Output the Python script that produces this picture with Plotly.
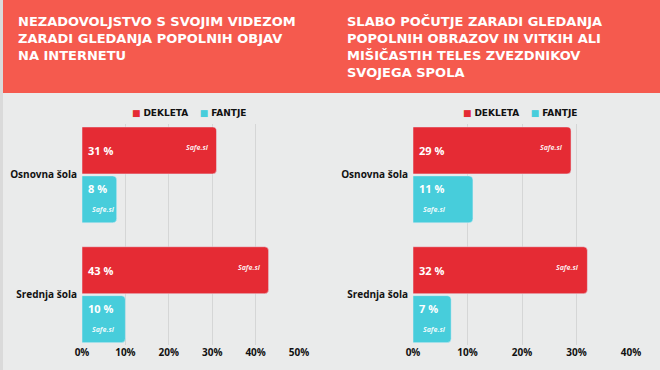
import plotly.graph_objects as go

# ---- data ----
categories = ["Osnovna šola", "Srednja šola"]
left_title = "NEZADOVOLJSTVO S SVOJIM VIDEZOM<br>ZARADI GLEDANJA POPOLNIH OBJAV<br>NA INTERNETU"
right_title = "SLABO POČUTJE ZARADI GLEDANJA<br>POPOLNIH OBRAZOV IN VITKIH ALI<br>MIŠIČASTIH TELES ZVEZDNIKOV<br>SVOJEGA SPOLA"
series_names = ["DEKLETA", "FANTJE"]
left_dekleta = [31, 43]
left_fantje = [8, 10]
right_dekleta = [29, 32]
right_fantje = [11, 7]
left_ticks = [0, 10, 20, 30, 40, 50]
right_ticks = [0, 10, 20, 30, 40]

RED = "#E52B34"
CYAN = "#47CDDB"
HEADER = "#F55A4E"
BG = "#EAEBEB"
W, H = 660, 370

fig = go.Figure()

panels = [
    dict(xa="x", ya="y", dek=left_dekleta, fan=left_fantje, ticks=left_ticks,
         dom=[82 / W, 299 / W], title=left_title, tx=16, legx=189),
    dict(xa="x2", ya="y2", dek=right_dekleta, fan=right_fantje, ticks=right_ticks,
         dom=[413 / W, 631 / W], title=right_title, tx=345, legx=520),
]

annotations = []
for i, p in enumerate(panels):
    fig.add_trace(go.Bar(y=categories, x=p["dek"], orientation="h", marker_color=RED,
                         name=series_names[0], showlegend=False,
                         xaxis=p["xa"], yaxis=p["ya"]))
    fig.add_trace(go.Bar(y=categories, x=p["fan"], orientation="h", marker_color=CYAN,
                         name=series_names[1], showlegend=False,
                         xaxis=p["xa"], yaxis=p["ya"]))
    for c, cat in enumerate(categories):
        d, f = p["dek"][c], p["fan"][c]
        annotations.append(dict(xref=p["xa"], yref=p["ya"], x=0, y=cat, xanchor="left",
                                xshift=4, yshift=24, text=f"<b>{d} %</b>", showarrow=False,
                                font=dict(color="white", size=11, family="Open Sans")))
        annotations.append(dict(xref=p["xa"], yref=p["ya"], x=0, y=cat, xanchor="left",
                                xshift=4, yshift=-14, text=f"<b>{f} %</b>", showarrow=False,
                                font=dict(color="white", size=11, family="Open Sans")))
        annotations.append(dict(xref=p["xa"], yref=p["ya"], x=d, y=cat, xanchor="right",
                                xshift=-6, yshift=27, text="<i><b>Safe.si</b></i>", showarrow=False,
                                font=dict(color="rgba(255,255,255,0.9)", size=7, family="Open Sans")))
        annotations.append(dict(xref=p["xa"], yref=p["ya"], x=0, y=cat, xanchor="left",
                                xshift=8, yshift=-35, text="<i><b>Safe.si</b></i>", showarrow=False,
                                font=dict(color="rgba(255,255,255,0.9)", size=7, family="Open Sans")))
    annotations.append(dict(xref="paper", yref="paper", x=p["tx"] / W, y=1 - 12 / H,
                            xanchor="left", yanchor="top", align="left", showarrow=False,
                            text=f"<b>{p['title']}</b>",
                            font=dict(color="white", size=13, family="DejaVu Sans")))
    annotations.append(dict(xref="paper", yref="paper", x=p["legx"] / W, y=1 - 113 / H,
                            xanchor="center", yanchor="middle", showarrow=False,
                            text=(f"<span style='color:{RED}'>■</span> <b>{series_names[0]}</b>"
                                  f"    <span style='color:{CYAN}'>■</span> <b>{series_names[1]}</b>"),
                            font=dict(color="#111", size=9, family="DejaVu Sans")))

axis_common = dict(showgrid=True, gridcolor="#D5D6D6", gridwidth=1, zeroline=False,
                   showline=False, automargin=False,
                   tickfont=dict(size=10, color="#111", family="Open Sans", weight="bold"))
ydom = [1 - 345 / H, 1 - 124 / H]
yaxis_common = dict(showgrid=False, zeroline=False, showline=False, automargin=False,
                    range=[1.42, -0.425], ticks="", ticklabelstandoff=4,
                    tickfont=dict(size=10, color="#111", family="Open Sans", weight="bold"))

fig.update_layout(
    width=W, height=H, margin=dict(l=0, r=0, t=0, b=0, autoexpand=False),
    paper_bgcolor=BG, plot_bgcolor="rgba(0,0,0,0)",
    barmode="group", bargap=0.183, bargroupgap=0.04, barcornerradius=4,
    xaxis=dict(domain=panels[0]["dom"], range=[0, 50], tickvals=left_ticks,
               ticktext=[f"{v}%" for v in left_ticks], anchor="y", **axis_common),
    xaxis2=dict(domain=panels[1]["dom"], range=[0, 40], tickvals=right_ticks,
                ticktext=[f"{v}%" for v in right_ticks], anchor="y2", **axis_common),
    yaxis=dict(domain=ydom, anchor="x", **yaxis_common),
    yaxis2=dict(domain=ydom, anchor="x2", **yaxis_common),
    annotations=annotations,
    shapes=[
        dict(type="rect", xref="paper", yref="paper", x0=0, x1=1, y0=1 - 93 / H, y1=1,
             fillcolor=HEADER, line_width=0, layer="below"),
        dict(type="rect", xref="paper", yref="paper", x0=0, x1=3 / W, y0=0, y1=1,
             fillcolor="#DADADA", line_width=0, layer="below"),
    ],
    showlegend=False,
)

post = ("document.documentElement.style.margin='0';document.body.style.margin='0';"
        "document.documentElement.style.overflow='hidden';document.body.style.overflow='hidden';"
        "var gd=document.getElementById('{plot_id}');"
        "gd.style.position='fixed';gd.style.left='0px';gd.style.top='0px';"
        "window.scrollTo(0,0);")

fig.write_html("out.html", config={"displayModeBar": False}, post_script=post)
